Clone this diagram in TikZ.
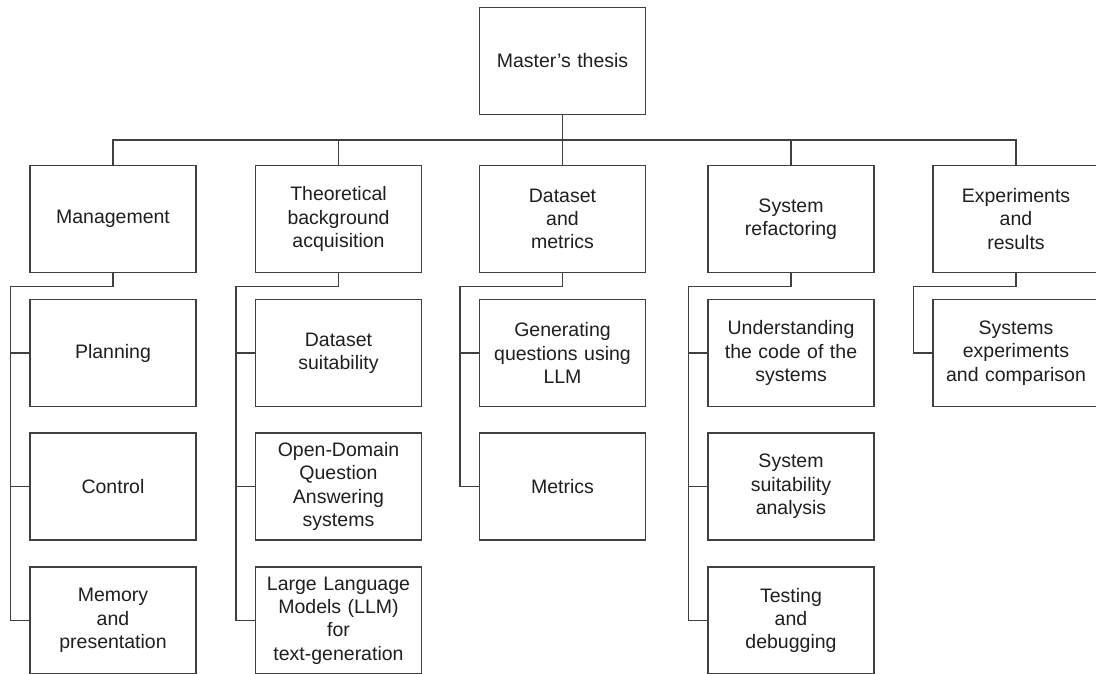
\documentclass[tikz,border=0pt]{standalone}
\usepackage{fontspec}
\setmainfont{Liberation Sans}
\begin{document}
\begin{tikzpicture}[x=1pt,y=-1pt,
  box/.style={draw=black!75, line width=1.2pt, fill=white, minimum width=166pt, minimum height=107pt,
    text width=162pt, align=center, inner sep=0pt, text=black!88,
    font=\fontsize{19.5}{23.3}\selectfont},
  link/.style={draw=black!75, line width=1.2pt}]
\useasboundingbox (0,0) rectangle (1096,673);
\clip (0,0) rectangle (1096,673);
% top
\node[box] (thesis) at (562.5,61) {Master’s thesis};
% level 1
\node[box] (mgmt) at (113,219) {Management};
\node[box] (theo) at (338.5,219) {Theoretical\\background\\acquisition};
\node[box] (data) at (562.5,219) {Dataset\\and\\metrics};
\node[box] (sys) at (791,219) {System\\refactoring};
\node[box] (exp) at (1016,219) {Experiments\\and\\results};
% level 2 - management
\node[box] (plan) at (113,353) {Planning};
\node[box] (ctrl) at (113,486.5) {Control};
\node[box] (mem) at (113,620.5) {Memory\\and\\presentation};
% theoretical
\node[box] (dsuit) at (338.5,353) {Dataset\\suitability};
\node[box] (odqa) at (338.5,486.5) {Open-Domain\\Question\\Answering\\systems};
\node[box] (llm) at (338.5,620.5) {Large Language\\Models (LLM)\\for\\text-generation};
% dataset
\node[box] (genq) at (562.5,353) {Generating\\questions using\\LLM};
\node[box] (metr) at (562.5,486.5) {Metrics};
% system
\node[box] (under) at (791,353) {Understanding\\the code of the\\systems};
\node[box] (ssuit) at (791,486.5) {System\\suitability\\analysis};
\node[box] (test) at (791,620.5) {Testing\\and\\debugging};
% experiments
\node[box] (sexp) at (1016,353) {Systems\\experiments\\and comparison};
% top connectors
\coordinate (hub) at (562.5,140);
\draw[link] (thesis.south) -- (hub);
\draw[link] (mgmt.north) |- (hub) -| (exp.north);
\draw[link] (theo.north) -- (theo.north |- hub);
\draw[link] (data.north) -- (data.north |- hub);
\draw[link] (sys.north) -- (sys.north |- hub);
% management
\draw[link] (mgmt.south) -- ++(0,13) -| ([xshift=-19pt]mem.west) -- (mem.west);
\draw[link] (plan.west) -- ++(-19,0);
\draw[link] (ctrl.west) -- ++(-19,0);
% theoretical
\draw[link] (theo.south) -- ++(0,13) -| ([xshift=-19pt]llm.west) -- (llm.west);
\draw[link] (dsuit.west) -- ++(-19,0);
\draw[link] (odqa.west) -- ++(-19,0);
% dataset
\draw[link] (data.south) -- ++(0,13) -| ([xshift=-19pt]metr.west) -- (metr.west);
\draw[link] (genq.west) -- ++(-19,0);
% system
\draw[link] (sys.south) -- ++(0,13) -| ([xshift=-19pt]test.west) -- (test.west);
\draw[link] (under.west) -- ++(-19,0);
\draw[link] (ssuit.west) -- ++(-19,0);
% experiments
\draw[link] (exp.south) -- ++(0,13) -| ([xshift=-19pt]sexp.west) -- (sexp.west);
\end{tikzpicture}
\end{document}
